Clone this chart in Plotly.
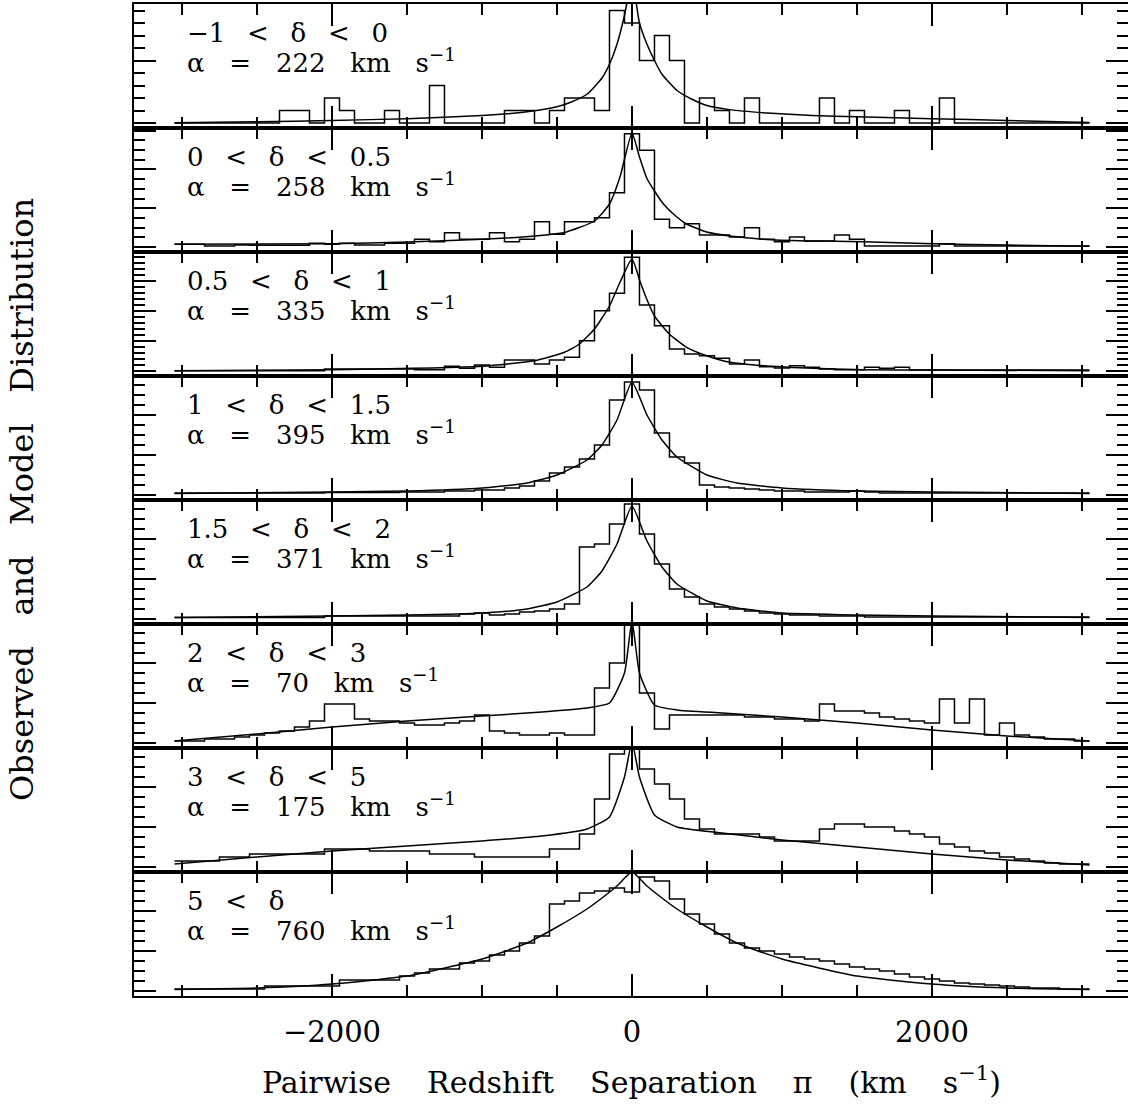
import plotly.graph_objects as go

# ---------------- data ----------------
BIN_CENTERS = list(range(-3000, 3001, 100))  # km/s, 61 bins of width 100

LABELS = ["−1 < δ < 0", "0 < δ < 0.5", "0.5 < δ < 1", "1 < δ < 1.5",
          "1.5 < δ < 2", "2 < δ < 3", "3 < δ < 5", "5 < δ"]
ALPHAS = [222, 258, 335, 395, 371, 70, 175, 760]

HIST_1 = [0, 0, 0, 0, 0, 0, 0, 1, 1, 0, 2, 1, 0, 0, 1, 0, 0, 3, 0, 0, 0, 0, 1, 1, 0, 1, 2, 2, 1, 9,
          8,
          5, 7, 5, 0, 2, 1, 0, 2, 0, 0, 0, 0, 2, 0, 1, 0, 0, 1, 0, 0, 2, 0, 0, 0, 0, 0, 0, 0, 0, 0]
HIST_2 = [2.7, 2.7, 1, 1, 2, 1.7, 1.7, 1.7, 1.7, 3.7, 2.7, 3.7, 2, 2, 3.7, 3.7, 7.7, 5.3, 14.3, 7.7,
          7.7, 14.3, 5.3, 7.7, 25.3, 12.7, 25.3, 25.3, 29.3, 54.3,
          113.3,
          96.7, 27.7, 19.3, 23.3, 12, 12, 10, 19.3, 7.7, 5.3, 10, 6, 6, 12, 7.7, 1, 1, 1, 1, 1,
          3.3, 1, 1, 1, 1, 1, 1, 1, 1, 1]
HIST_3 = [0.3, 0.3, 0.3, 0.3, 0.3, 0.3, 0.3, 0.3, 0.3, 0.3, 2, 2, 2, 2, 2, 2, 1.3, 1.3,
          4.7, 2.7, 6, 3.7, 11, 11, 7, 11, 13.7, 30.3, 60.3, 77.7,
          113.7,
          66, 45.3, 22, 17, 15.3, 12.7, 7, 11, 4.3, 3, 5.3, 3.7, 2, 1.3, 1.3, 3.7, 2.7, 3.7,
          1, 1, 1, 1, 1, 1, 1, 1, 1, 1, 1, 1]
HIST_4 = [2, 2, 2, 2, 2, 2, 2, 2, 2, 2, 2.5, 2.5, 2.5, 2.5, 2.5, 3, 3, 3, 4, 4, 5, 5, 7, 9, 14, 22,
          28, 36, 50, 95,
          113,
          105, 62, 38, 32, 10, 8, 7, 6, 5, 4, 4, 3, 3, 3, 4, 3, 2, 2, 2, 2, 2, 2, 2, 2, 2, 2, 2, 2,
          2, 2]
HIST_5 = [1.5, 1.5, 1.5, 1.5, 1.5, 1.5, 1.5, 1.5, 1.5, 1.5, 3, 3, 3, 3, 3, 3, 3, 3, 3, 5, 6, 4, 5,
          7, 8, 10, 15, 72, 75, 95,
          115,
          85, 55, 30, 22, 15, 12, 10, 8, 6, 5, 4, 4, 3, 3, 3, 2, 2, 2, 2, 2, 2, 2, 2, 2, 2, 2, 2, 2,
          2, 2]
HIST_6 = [2, 2, 4, 4, 6, 8, 10, 12, 16, 22, 39, 39, 24, 22, 22, 20, 18, 18, 20, 22, 28, 12, 10,
          8, 8, 10, 8, 8, 55, 80,
          119,
          50, 14, 28, 28, 28, 28, 28, 26, 26, 24, 24, 22, 39, 32, 32, 30, 26, 24, 22, 20, 44, 20,
          44, 8, 20, 8, 6, 4, 4, 2]
HIST_7 = [6, 6, 6, 10, 10, 13, 13, 13, 13, 13, 18, 18, 18, 16, 16, 16, 16, 13, 13, 13, 10, 10,
          10, 10, 10, 18, 18, 33, 68, 113,
          119,
          98, 83, 68, 48, 38, 33, 33, 33, 30, 26, 26, 26, 38, 43, 43, 40, 40, 36, 33, 30, 23, 20,
          16, 14, 10, 8, 6, 4, 3, 3]
HIST_8 = [2, 2, 2, 2, 2, 2, 5, 5, 5, 5, 5, 11, 11, 11, 11, 15, 18, 22, 22, 28, 30, 36, 40, 48, 55,
          87, 90, 98, 100, 103,
          99,
          114, 110, 92, 77, 67, 57, 48, 43, 40, 37, 34, 32, 30, 27, 24, 22, 20, 17, 14, 12, 10, 8,
          7, 6, 5, 4, 3, 3, 2, 2]

MODEL_X_1 = [-3050, -2500, -2000, -1500, -1000, -700, -500, -400, -300, -200, -150, -100, -50, 0,
             50, 100, 150, 200, 300, 400, 500, 650, 900, 1200, 1500, 2000, 2500, 3050]
MODEL_Y_1 = [0.02, 0.1, 0.2, 0.35, 0.6, 0.9, 1.3, 1.7, 2.3, 3.6, 4.7, 6.3, 8.6, 11.5,
             8.0, 6.3, 5.0, 3.9, 2.6, 1.9, 1.4, 1.07, 0.8, 0.6, 0.5, 0.35, 0.2, 0.05]
MODEL_X_2 = [-3050, -2000, -1500, -1000, -650, -450, -250, -150, -80, 0, 50, 98, 150, 210, 276,
             364, 498, 653, 876, 1164, 1542, 2004, 2507, 3050]
MODEL_Y_2 = [2.7, 3.3, 5, 7.7, 11, 14.5, 26, 43, 70, 114, 90, 69, 56, 43, 33, 23, 15, 11, 7.7, 6,
             5.3, 3.3, 2, 0.7]
MODEL_X_3 = [-3050, -2000, -1000, -650, -450, -350, -250, -150, -80, 0, 53, 98, 150, 249, 364,
             498, 653, 876, 1164, 1542, 2004, 3050]
MODEL_Y_3 = [0.3, 1.3, 4.7, 10.3, 18.7, 27, 42, 65, 88.7, 112, 90, 72, 55, 37, 23.7, 15.3, 8.7,
             5.3, 3, 1.3, 1, 0.3]
MODEL_X_4 = [-3050, -2000, -1500, -1000, -700, -500, -300, -200, -100, 0, 100, 200, 300, 500,
             700, 1000, 1500, 2000, 3050]
MODEL_Y_4 = [1.5, 3, 4, 7, 12, 20, 35, 50, 75, 113, 80, 55, 38, 20, 12, 7, 4, 3, 1.5]
MODEL_X_5 = [-3050, -2000, -1500, -1000, -700, -500, -300, -200, -100, 0, 100, 200, 300, 500,
             700, 1000, 1500, 2000, 3050]
MODEL_Y_5 = [1.5, 3, 4, 6, 10, 17, 32, 48, 75, 113, 78, 52, 35, 18, 11, 6, 4, 3, 1.5]
MODEL_X_6 = [-3050, -2500, -2000, -1500, -1000, -600, -300, -150, -50, 0, 50, 150, 300, 600,
             1000, 1500, 2000, 2500, 3050]
MODEL_Y_6 = [2, 9, 16, 22, 27, 31, 35, 40, 70, 122, 70, 38, 33, 30, 26, 20, 13, 7, 2]
MODEL_X_7 = [-3050, -2500, -2000, -1500, -1000, -600, -300, -150, -50, 0, 50, 150, 300, 600,
             1000, 1500, 2000, 2500, 3050]
MODEL_Y_7 = [3, 10, 16, 21, 26, 31, 38, 50, 90, 125, 90, 52, 40, 34, 27, 20, 13, 7, 2]
MODEL_X_8 = [-3050, -2500, -2000, -1500, -1000, -700, -500, -300, -200, -100, 0, 100, 200, 300,
             500, 700, 1000, 1500, 2000, 2500, 3050]
MODEL_Y_8 = [1.5, 3, 7, 15, 32, 48, 64, 82, 93, 105, 119, 105, 93, 82, 64, 48, 32, 15, 7, 3, 1.5]

HISTS = [HIST_1, HIST_2, HIST_3, HIST_4, HIST_5, HIST_6, HIST_7, HIST_8]
MODEL_X = [MODEL_X_1, MODEL_X_2, MODEL_X_3, MODEL_X_4, MODEL_X_5, MODEL_X_6, MODEL_X_7, MODEL_X_8]
MODEL_Y = [MODEL_Y_1, MODEL_Y_2, MODEL_Y_3, MODEL_Y_4, MODEL_Y_5, MODEL_Y_6, MODEL_Y_7, MODEL_Y_8]

# per-panel y scaling (pixels per data unit) and tick spacing (data units)
Y_UNIT = [12.5, 1, 1, 1, 1, 1, 1, 1]
Y_MINOR = [1, 9.7, 6, 10, 10, 10, 10, 10]
Y_MAJOR = [5, 38.8, 30, 40, 40, 40, 40, 40]

# ---------------- layout ----------------
W, H = 1128, 1104
ML, MR, MT, MB = 134, 0, 4, 108
N = 8
PANEL_PX = (H - MT - MB) / N
X_RANGE = [-3320, 3307]
FONT = "DejaVu Serif"
LW = 1.5

fig = go.Figure()
layout = {}
annotations = []
GAP1 = "\u00a0\u00a0\u2009"
GAP2 = "\u00a0\u00a0\u00a0"

for i in range(N):
    sfx = "" if i == 0 else str(i + 1)
    xa, ya = "x" + sfx, "y" + sfx
    edges = [c - 50 for c in BIN_CENTERS] + [BIN_CENTERS[-1] + 50]
    vals = HISTS[i] + [HISTS[i][-1]]
    fig.add_trace(go.Scatter(x=edges, y=vals, mode="lines",
                             line=dict(shape="hv", color="black", width=LW),
                             xaxis=xa, yaxis=ya, showlegend=False, hoverinfo="skip"))
    fig.add_trace(go.Scatter(x=MODEL_X[i], y=MODEL_Y[i], mode="lines",
                             line=dict(shape="spline", smoothing=0.5, color="black", width=LW),
                             xaxis=xa, yaxis=ya, showlegend=False, hoverinfo="skip"))
    dom = [1 - (i + 1) / N, 1 - i / N]
    u = Y_UNIT[i]
    layout["xaxis" + sfx] = dict(
        domain=[0, 1], anchor=ya, range=X_RANGE, showline=True, linecolor="black",
        linewidth=LW, mirror="ticks", ticks="inside", ticklen=22, tickwidth=LW,
        tickcolor="black", tickmode="linear", tick0=0, dtick=2000,
        minor=dict(ticks="inside", ticklen=11, tickwidth=LW, tickcolor="black",
                   tick0=0, dtick=500),
        showgrid=False, zeroline=False, showticklabels=(i == N - 1),
        tickfont=dict(family=FONT, size=29, color="black"),
        ticklabelstandoff=9,
        matches=None if i == N - 1 else "x" + str(N),
    )
    layout["yaxis" + sfx] = dict(
        domain=dom, anchor=xa, range=[-5 / u, (PANEL_PX - 5) / u], showline=True,
        linecolor="black", linewidth=LW, mirror="ticks", ticks="inside", ticklen=22,
        tickwidth=LW, tickcolor="black", tickmode="linear", tick0=0, dtick=Y_MAJOR[i],
        minor=dict(ticks="inside", ticklen=11, tickwidth=LW, tickcolor="black",
                   tick0=0, dtick=Y_MINOR[i]),
        showgrid=False, zeroline=False, showticklabels=False,
    )
    top_px = MT + i * PANEL_PX
    line1 = LABELS[i].replace(" ", GAP1)
    line2 = f"α{GAP2}={GAP2}{ALPHAS[i]}{GAP2}km{GAP2}s<sup>−1</sup>"
    for txt, off in ((line1, 29), (line2, 57)):
        annotations.append(dict(
            text=txt, xref="paper", yref="paper", showarrow=False,
            x=(185 - ML) / (W - ML - MR), y=1 - (top_px + off - MT) / (H - MT - MB),
            xanchor="left", yanchor="middle",
            font=dict(family=FONT, size=26, color="black")))

XG = "\u2003\u2009"
annotations.append(dict(
    text=f"Pairwise{XG}Redshift{XG}Separation{XG}π{XG}(km{XG}s<sup>−1</sup>)",
    xref="paper", yref="paper", showarrow=False, x=0.5,
    y=-(1080 - (H - MB)) / (H - MT - MB), xanchor="center", yanchor="middle",
    font=dict(family=FONT, size=30, color="black")))
YG = "\u00a0\u00a0\u00a0"
annotations.append(dict(
    text=f"Observed{YG}and{YG}Model{YG}Distribution",
    xref="paper", yref="paper", showarrow=False, textangle=-90,
    x=-(ML - 22) / (W - ML - MR), y=0.5, xanchor="center", yanchor="middle",
    font=dict(family=FONT, size=32, color="black")))

fig.update_layout(
    width=W, height=H, margin=dict(l=ML, r=MR, t=MT, b=MB, autoexpand=False),
    paper_bgcolor="white", plot_bgcolor="white", showlegend=False,
    annotations=annotations, **layout)

fig.write_html("out.html")
